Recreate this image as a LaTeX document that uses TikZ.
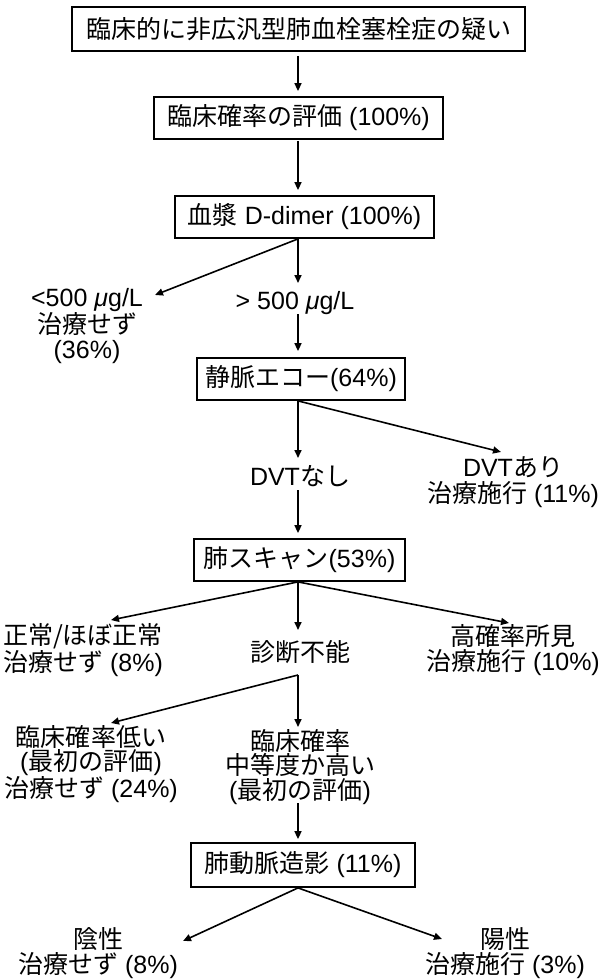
\documentclass[tikz,border=0pt]{standalone}
\usepackage{fontspec}
\setmainfont{Liberation Sans}
\newfontfamily\jp{Noto Sans CJK JP}
\newcommand\J[1]{{\jp #1}}
\usetikzlibrary{arrows.meta}
\begin{document}
\begin{tikzpicture}[x=1pt,y=-1pt,
  box/.style={draw, line width=1.8pt, inner sep=0pt, align=center},
  lbl/.style={inner sep=0pt, align=center},
  arr/.style={line width=1.6pt, -{Triangle[length=8pt,width=7pt]}},
  every node/.style={font=\fontsize{25}{24.5}\selectfont}]
\useasboundingbox (0,0) rectangle (608,979);
\coordinate (ax) at (298,0);
% boxes
\node[box, minimum width=453pt, minimum height=44pt] (b1) at (298.5,29) {\J{臨床的に非広汎型肺血栓塞栓症の疑い}};
\node[box, minimum width=289pt, minimum height=42pt] (b2) at (298.5,118) {\J{臨床確率の評価} (100\%)};
\node[box, minimum width=259pt, minimum height=42pt] (b3) at (304.5,217) {\J{血漿} D-dimer (100\%)};
\node[box, minimum width=208pt, minimum height=42pt] (b4) at (301,379) {\J{静脈エコー}(64\%)};
\node[box, minimum width=211pt, minimum height=42pt] (b5) at (299.5,560) {\J{肺スキャン}(53\%)};
\node[box, minimum width=224pt, minimum height=44pt] (b6) at (303,865) {\J{肺動脈造影} (11\%)};
% labels
\node[lbl] (lo) at (87,326) {<500 \textit{μ}g/L\\\J{治療せず}\\(36\%)};
\node[lbl] (hi) at (295,303) {> 500 \textit{μ}g/L};
\node[lbl] (nodvt) at (300,476) {DVT\J{なし}};
\node[lbl] (dvt) at (513,482) {DVT\J{あり}\\[2pt]\J{治療施行} (11\%)};
\node[lbl] (norm) at (83,650) {\J{正常/ほぼ正常}\\\J{治療せず} (8\%)};
\node[lbl] (nd) at (300,652) {\J{診断不能}};
\node[lbl] (high) at (513,650) {\J{高確率所見}\\\J{治療施行} (10\%)};
\node[lbl] (low) at (91,764) {\J{臨床確率低い}\\(\J{最初の評価})\\\J{治療せず} (24\%)};
\node[lbl] (mid) at (300,767) {\J{臨床確率}\\\J{中等度か高い}\\(\J{最初の評価})};
\node[lbl] (neg) at (98,953) {\J{陰性}\\\J{治療せず} (8\%)};
\node[lbl] (pos) at (505,953) {\J{陽性}\\\J{治療施行} (3\%)};
% arrow end points near labels
\coordinate (tlo) at (155,295);
\coordinate (thi) at (298,283);
\coordinate (fhi) at (298,314);
\coordinate (tnodvt) at (298,458);
\coordinate (tdvt) at (501,452);
\coordinate (fnodvt) at (298,490);
\coordinate (tnorm) at (111,620);
\coordinate (tnd) at (298,630);
\coordinate (thigh) at (509,623);
\coordinate (fnd) at (298,675);
\coordinate (tlow) at (111,723);
\coordinate (tmid) at (298,727);
\coordinate (fmid) at (298,803);
\coordinate (tneg) at (183,941);
\coordinate (tpos) at (442,939);
% connectors
\draw[arr, shorten <=4pt, shorten >=5pt] (b1.south -| ax) -- (b2.north -| ax);
\draw[arr, shorten <=1pt, shorten >=5pt] (b2.south -| ax) -- (b3.north -| ax);
\draw[arr] (b3.south -| ax) -- (tlo);
\draw[arr] (b3.south -| ax) -- (thi);
\draw[arr, shorten >=6pt] (fhi) -- (b4.north -| ax);
\draw[arr] (b4.south -| ax) -- (tnodvt);
\draw[arr] (b4.south -| ax) -- (tdvt);
\draw[arr, shorten >=5pt] (fnodvt) -- (b5.north -| ax);
\draw[arr] (b5.south -| ax) -- (tnorm);
\draw[arr] (b5.south -| ax) -- (tnd);
\draw[arr] (b5.south -| ax) -- (thigh);
\draw[arr] (fnd) -- (tlow);
\draw[arr] (fnd) -- (tmid);
\draw[arr, shorten >=3pt] (fmid) -- (b6.north -| ax);
\draw[arr] (b6.south -| ax) -- (tneg);
\draw[arr] (b6.south -| ax) -- (tpos);
\end{tikzpicture}
\end{document}
